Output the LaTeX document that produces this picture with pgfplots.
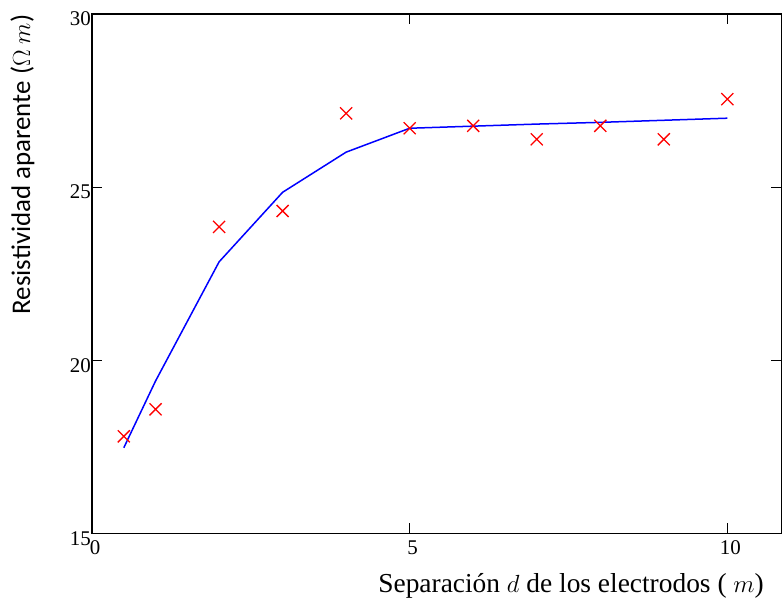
\documentclass[border=0pt]{standalone}
\usepackage{fontspec}
\setmainfont{Liberation Serif}
\newfontfamily\carlito{Carlito}
\usepackage{pgfplots}
\pgfplotsset{compat=1.18}
\begin{document}
\begin{tikzpicture}
\begin{axis}[
  name=ax,
  scale only axis,
  width=689bp, height=519bp,
  xmin=0, xmax=10.85, ymin=15, ymax=30,
  xtick={0,5,10}, ytick={15,20,25,30},
  tick align=inside,
  major tick length=10bp,
  axis line style={line width=1.3bp},
  tick style={black, line width=1bp},
  ticklabel style={font=\fontsize{21}{21}\selectfont},
  /pgf/number format/assume math mode=true,
  xticklabel style={yshift=-4bp, xshift=3bp},
  yticklabel style={inner sep=1bp, yshift=-5bp},
  xlabel={Separación $d$ de los electrodos ( $m$)},
  xlabel style={font=\fontsize{27.5}{27.5}\selectfont, at={(axis description cs:0.695,-0.102)}, anchor=center},
  ylabel={\carlito Resistividad aparente ($\Omega\ m$)},
  ylabel style={font=\fontsize{27}{27}\selectfont, at={(axis description cs:-0.101,0.71)}, anchor=center},
]
\addplot[blue, line width=1.5bp] coordinates {
  (0.5,17.47) (1,19.40) (2,22.84) (3,24.85) (4,26.01) (5,26.70)
  (6,26.76) (7,26.82) (8,26.87) (9,26.93) (10,26.99)
};
\addplot[only marks, red, mark=x, mark size=8.5bp, mark options={line width=1.3bp}] coordinates {
  (0.5,17.80) (1,18.58) (2,23.85) (3,24.31) (4,27.13) (5,26.70)
  (6,26.77) (7,26.38) (8,26.77) (9,26.38) (10,27.54)
};
\end{axis}
\path ([xshift=-92bp,yshift=-74bp]ax.south west) rectangle ([yshift=14bp]ax.north east);
\end{tikzpicture}
\end{document}
